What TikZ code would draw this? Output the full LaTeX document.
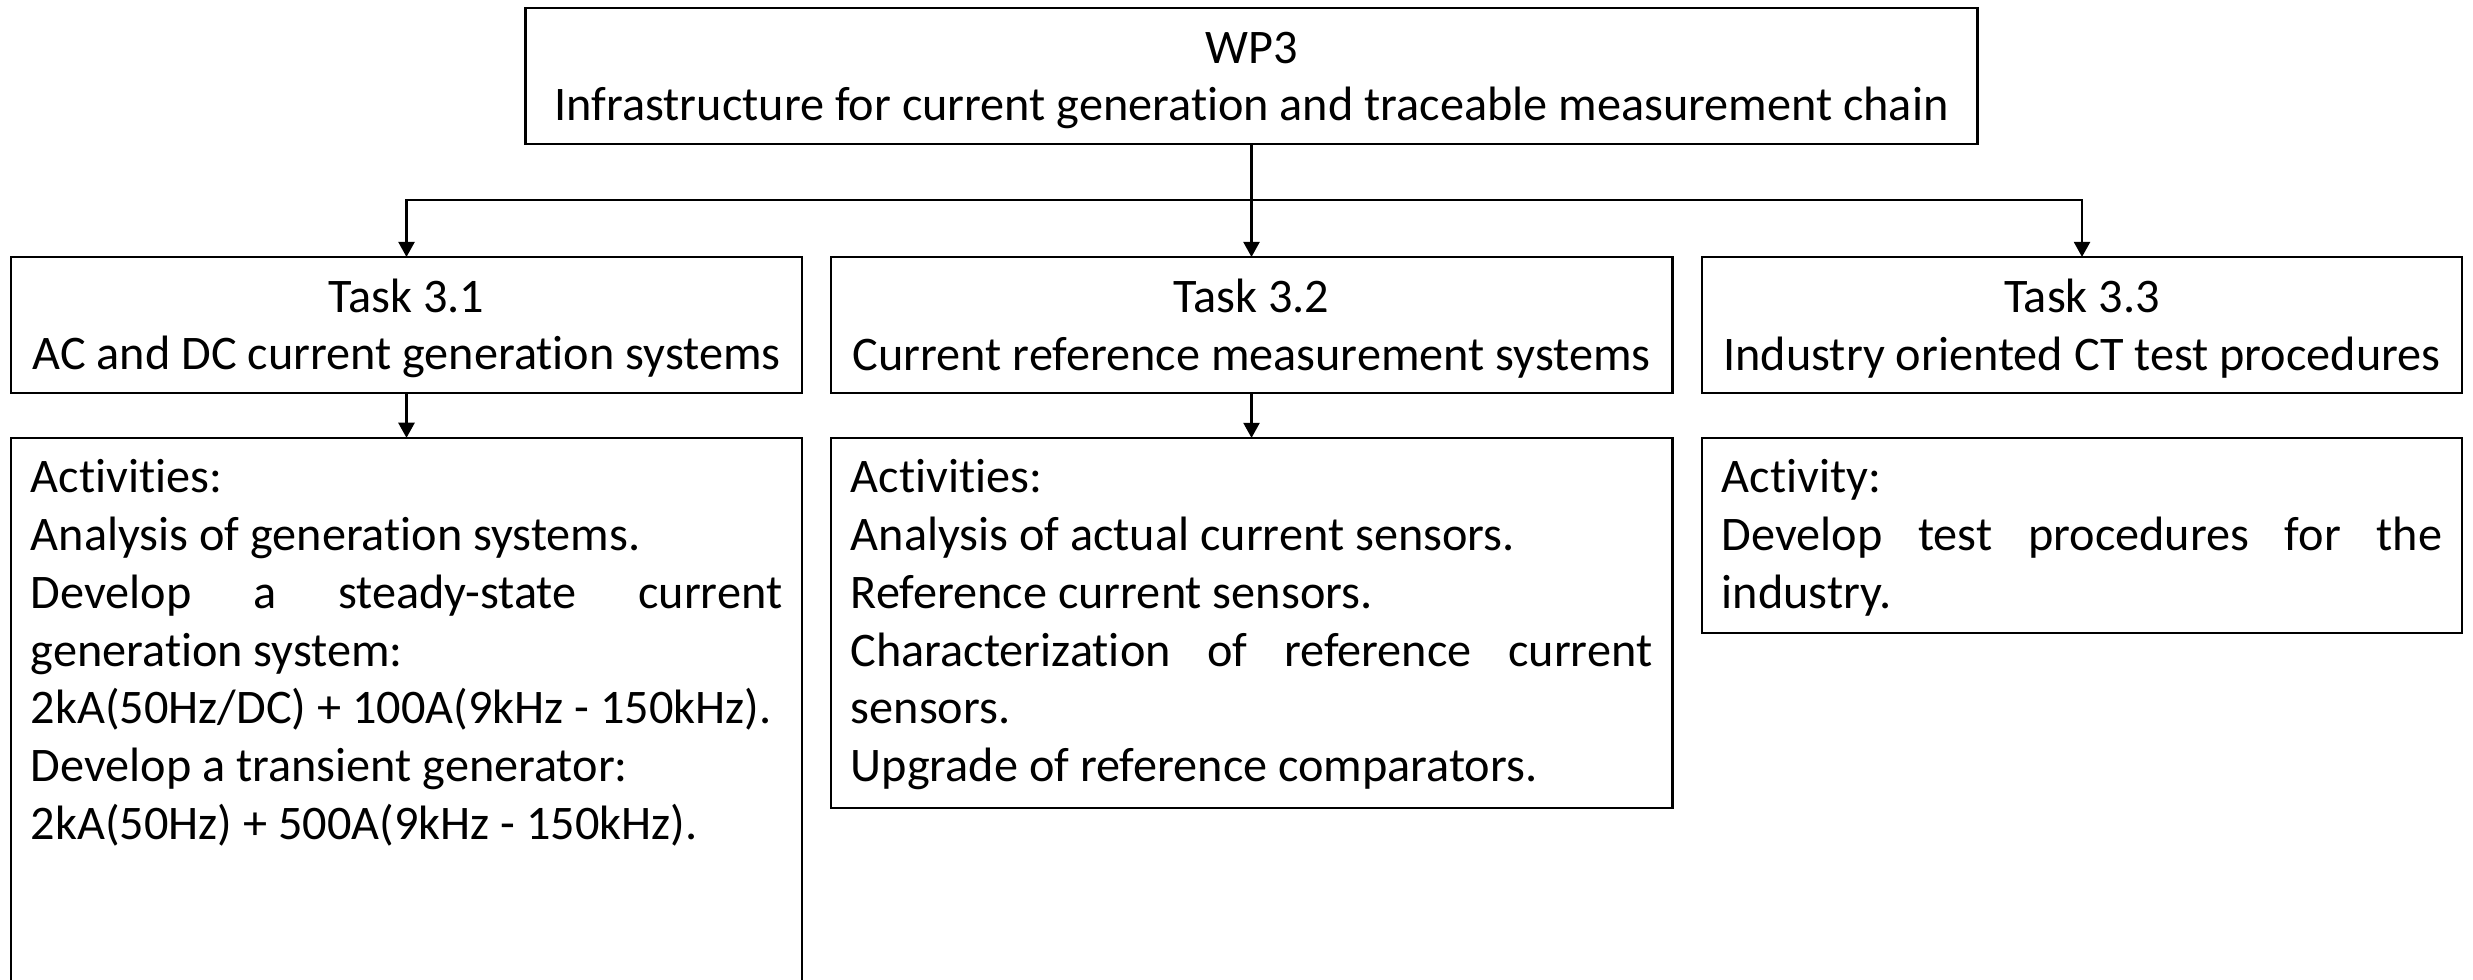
\documentclass[tikz,border=0pt]{standalone}
\usepackage{fontspec}
\setmainfont{Carlito}[Ligatures=NoCommon]
\usetikzlibrary{arrows.meta}
\tikzset{
  fnt/.style={font=\fontsize{13.72pt}{16.42pt}\selectfont},
  box/.style={draw, line width=0.7pt, inner sep=0pt, outer sep=0pt, fnt},
  hbox/.style={box, align=center},
  txt/.style={fnt, align=justify, anchor=north west, inner sep=0pt, outer sep=0pt, xshift=0.2cm, yshift=-0.146cm},
  arr/.style={line width=0.6pt, -{Triangle[length=4.3pt,width=4.6pt]}}
}
\newcommand{\actsetup}{\setlength\parindent{0pt}\setlength\parskip{0pt}\tolerance=10000\hyphenpenalty=10000\exhyphenpenalty=10000\strut}
\begin{document}
\begin{tikzpicture}[x=0.01cm,y=-0.01cm]
\useasboundingbox (0,0) rectangle (2473,980);
\clip (0,0) rectangle (2473,980);
% header
\node[hbox, minimum width=14.51cm, minimum height=1.36cm] (wp) at (1251.5,76)
  {\strut WP3\\Infrastructure for current generation and traceable measurement chain};
% tasks
\node[hbox, minimum width=7.91cm, minimum height=1.36cm] (t1) at (406.5,325)
  {\strut Task 3.1\\AC and DC current generation systems};
\node[hbox, minimum width=8.41cm, minimum height=1.36cm] (t2) at (1251.5,325)
  {\strut Task 3.2\\Current reference measurement systems};
\node[hbox, minimum width=7.60cm, minimum height=1.36cm] (t3) at (2082,325)
  {\strut Task 3.3\\Industry oriented CT test procedures};
% activity boxes
\node[box, minimum width=7.91cm, minimum height=5.82cm] (a1) at (406.5,729) {};
\node[box, minimum width=8.41cm, minimum height=3.70cm] (a2) at (1251.5,623) {};
\node[box, minimum width=7.60cm, minimum height=1.95cm] (a3) at (2082,535.5) {};
% activity texts
\node[txt, text width=7.51cm] (a1t) at (a1.north west) {\actsetup
  \mbox{Activities:}\par
  \mbox{Analysis of generation systems.}\par
  Develop a steady-state current\linebreak
  \mbox{generation system:}\par
  \mbox{2kA(50Hz/DC) + 100A(9kHz - 150kHz).}\par
  \mbox{Develop a transient generator:}\par
  \mbox{2kA(50Hz) + 500A(9kHz - 150kHz).}\par};
\node[txt, text width=8.01cm] (a2t) at (a2.north west) {\actsetup
  \mbox{Activities:}\par
  \mbox{Analysis of actual current sensors.}\par
  \mbox{Reference current sensors.}\par
  Characterization of reference current\linebreak
  \mbox{sensors.}\par
  \mbox{Upgrade of reference comparators.}\par};
\node[txt, text width=7.20cm] (a3t) at (a3.north west) {\actsetup
  \mbox{Activity:}\par
  Develop test procedures for the\linebreak
  \mbox{industry.}\par};
% connectors
\draw[arr] (wp.south) -- (t2.north);
\draw[arr] (wp.south) -- ++(0,56) -| (t1.north);
\draw[arr] (wp.south) -- ++(0,56) -| (t3.north);
\draw[arr] (t1.south) -- (a1.north);
\draw[arr] (t2.south) -- (a2.north);
\end{tikzpicture}
\end{document}
